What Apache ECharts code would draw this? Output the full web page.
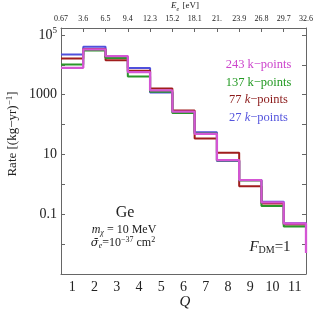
<!DOCTYPE html>
<html><head><meta charset="utf-8">
<script src="https://cdn.jsdelivr.net/npm/echarts@6/dist/echarts.min.js"></script>
<style>html,body{margin:0;padding:0;background:#fff}#c{width:316px;height:318px}</style>
</head><body><div id="c"></div>
<script>
// ---- data ----
var qBins = [1,2,3,4,5,6,7,8,9,10,11];
var qLabels = ['1','2','3','4','5','6','7','8','9','10','11'];
var eLabels = ['0.67','3.6','6.5','9.4','12.3','15.2','18.1','21.','23.9','26.8','29.7','32.6'];
var rate27  = [22000, 39800, 17800, 7740, 1190, 270, 55, 6.0, 1.4, 0.26, 0.050];
var rate77  = [16300, 34000, 14300, 6300, 1620, 293, 34, 11.4, 0.86, 0.23, 0.045];
var rate137 = [10200, 30000, 16700, 4070, 1260, 245, 50, 6.3, 1.35, 0.19, 0.039];
var rate243 = [7900, 33000, 19500, 5700, 1390, 271, 49, 6.5, 1.39, 0.25, 0.049];
var endValue = 0.005;

var SERIF = "'Liberation Serif','DejaVu Serif',serif";
function steps(vals){
  var pts = [];
  for (var i=0;i<qBins.length;i++){
    pts.push([qBins[i]-0.5, vals[i]]);
    pts.push([qBins[i]+0.5, vals[i]]);
  }
  pts.push([qBins[qBins.length-1]+0.5, endValue]);
  return pts;
}
function mk(name, vals, color, w){
  return {type:'line', name:name, xAxisIndex:0, yAxisIndex:0, data:steps(vals),
    showSymbol:false, symbol:'none', lineStyle:{color:color, width:w}, animation:false, z:3};
}
var axisCol = '#666';
var chart = echarts.init(document.getElementById('c'));
chart.setOption({
  animation:false,
  grid:{left:61, right:9, top:28, bottom:44},
  xAxis:[
    {type:'value', min:0.5, max:11.5, show:false},
    {type:'category', position:'bottom', data:qLabels, boundaryGap:true,
     axisLine:{lineStyle:{color:axisCol, width:1}},
     axisTick:{inside:true, length:4, lineStyle:{color:axisCol}},
     axisLabel:{interval:0, color:'#222', fontFamily:SERIF, fontSize:14, margin:6},
     splitLine:{show:false}},
    {type:'category', position:'top', data:eLabels, boundaryGap:false,
     axisLine:{lineStyle:{color:axisCol, width:1}},
     axisTick:{inside:true, length:4, interval:0, lineStyle:{color:axisCol}},
     axisLabel:{interval:0, color:'#222', fontFamily:SERIF, fontSize:8, margin:5},
     splitLine:{show:false}}
  ],
  yAxis:[
    {type:'log', logBase:10, min:0.001, max:170000, interval:1, position:'left',
     axisLine:{show:true, lineStyle:{color:axisCol, width:1}},
     axisTick:{inside:true, length:4, lineStyle:{color:axisCol}},
     splitLine:{show:false},
     axisLabel:{color:'#222', fontFamily:SERIF, fontSize:14, margin:4, showMaxLabel:false,
       formatter:function(v){
         var l = Math.log10(v), r = Math.round(l);
         if (Math.abs(l-r) > 1e-6) return '';
         if (r===5) return '{b|10}{s|5}';
         if (r===3) return '1000';
         if (r===1) return '10';
         if (r===-1) return '0.1';
         return '';
       },
       rich:{b:{fontFamily:SERIF, fontSize:14, color:'#222'},
             s:{fontFamily:SERIF, fontSize:9, color:'#222', verticalAlign:'top', padding:[0,0,8,0]}}}},
    {type:'log', logBase:10, min:0.001, max:170000, interval:1, position:'right',
     axisLine:{show:true, lineStyle:{color:axisCol, width:1}},
     axisTick:{inside:true, length:4, lineStyle:{color:axisCol}},
     splitLine:{show:false}, axisLabel:{show:false}}
  ],
  series:[
    mk('27 k-points', rate27, '#5050dc', 2),
    mk('77 k-points', rate77, '#a01c1c', 2),
    mk('137 k-points', rate137, '#2a962a', 2),
    mk('243 k-points', rate243, '#d455d4', 2.3)
  ],
  graphic:[
    {type:'text', x:185, y:6, style:{text:'{i|E}{sub|e} {n|[eV]}', align:'center', verticalAlign:'middle',
      rich:{i:{fontFamily:SERIF, fontStyle:'italic', fontSize:9, fill:'#222'},
            sub:{fontFamily:SERIF, fontStyle:'italic', fontSize:6, fill:'#222', verticalAlign:'bottom', padding:[4,0,0,0]},
            n:{fontFamily:SERIF, fontSize:9, fill:'#222'}}}},
    {type:'text', x:185, y:302, style:{text:'Q', font:'italic 15px '+SERIF, fill:'#222', align:'center', verticalAlign:'middle'}},
    {type:'text', x:13, y:134, rotation:Math.PI/2, style:{text:'{n|Rate [(kg\u2212yr)}{s|\u22121}{n|]}', align:'center', verticalAlign:'middle',
      rich:{n:{fontFamily:SERIF, fontSize:13, fill:'#222'},
            s:{fontFamily:SERIF, fontSize:9, fill:'#222', verticalAlign:'top', padding:[0,0,7,0]}}}},
    {type:'text', x:258.5, y:65, style:{text:'243 k\u2212points', font:'12.5px '+SERIF, fill:'#cc44cc', align:'center', verticalAlign:'middle'}},
    {type:'text', x:258.5, y:83, style:{text:'137 k\u2212points', font:'12.5px '+SERIF, fill:'#229922', align:'center', verticalAlign:'middle'}},
    {type:'text', x:258.5, y:100, style:{text:'{n|77 }{i|k}{n|\u2212points}', align:'center', verticalAlign:'middle',
      rich:{n:{fontFamily:SERIF, fontSize:12.5, fill:'#8b1a1a'}, i:{fontFamily:SERIF, fontStyle:'italic', fontSize:12.5, fill:'#8b1a1a'}}}},
    {type:'text', x:258.5, y:117.5, style:{text:'{n|27 }{i|k}{n|\u2212points}', align:'center', verticalAlign:'middle',
      rich:{n:{fontFamily:SERIF, fontSize:12.5, fill:'#5555dd'}, i:{fontFamily:SERIF, fontStyle:'italic', fontSize:12.5, fill:'#5555dd'}}}},
    {type:'text', x:125, y:213, style:{text:'Ge', font:'16px '+SERIF, fill:'#222', align:'center', verticalAlign:'middle'}},
    {type:'text', x:124, y:230, style:{text:'{i|m}{sub|\u03c7}{n| = 10 MeV}', align:'center', verticalAlign:'middle',
      rich:{i:{fontFamily:SERIF, fontStyle:'italic', fontSize:12, fill:'#222'},
            sub:{fontFamily:SERIF, fontStyle:'italic', fontSize:8, fill:'#222', verticalAlign:'bottom', padding:[5,0,0,0]},
            n:{fontFamily:SERIF, fontSize:12, fill:'#222'}}}},
    {type:'text', x:123, y:243, style:{text:'{i|\u03c3\u0304}{sub|e}{n|=10}{sup|\u221237}{n| cm}{sup|2}', align:'center', verticalAlign:'middle',
      rich:{i:{fontFamily:"'DejaVu Serif',serif", fontStyle:'italic', fontSize:11.5, fill:'#222'},
            sub:{fontFamily:SERIF, fontStyle:'italic', fontSize:8, fill:'#222', verticalAlign:'bottom', padding:[5,0,0,0]},
            sup:{fontFamily:SERIF, fontSize:8, fill:'#222', verticalAlign:'top', padding:[0,0,6,0]},
            n:{fontFamily:SERIF, fontSize:12, fill:'#222'}}}},
    {type:'text', x:270, y:247, style:{text:'{i|F}{sub|DM}{n|=1}', align:'center', verticalAlign:'middle',
      rich:{i:{fontFamily:SERIF, fontStyle:'italic', fontSize:15, fill:'#222'},
            sub:{fontFamily:SERIF, fontSize:10, fill:'#222', verticalAlign:'bottom', padding:[6,0,0,0]},
            n:{fontFamily:SERIF, fontSize:15, fill:'#222'}}}}
  ]
});
</script></body></html>
